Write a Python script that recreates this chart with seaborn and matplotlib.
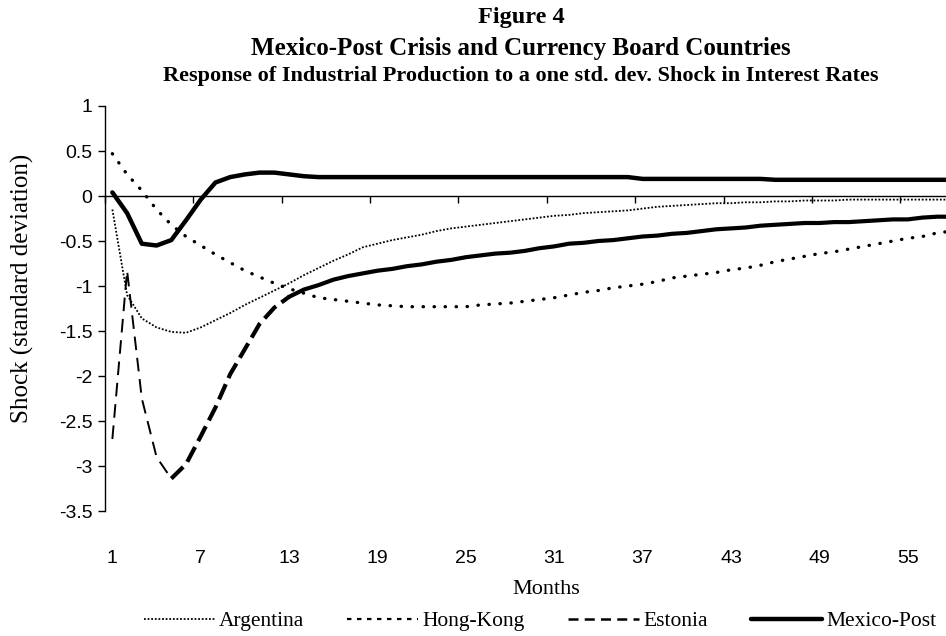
import matplotlib
matplotlib.use("Agg")
import matplotlib.pyplot as plt
from matplotlib.lines import Line2D
import seaborn as sns
import pandas as pd
import numpy as np

# impulse responses, months 1..58
months = list(range(1, 59))

argentina = [-0.15, -1.10, -1.36, -1.46, -1.51, -1.52, -1.46, -1.38, -1.30, -1.21,
             -1.13, -1.05, -0.97, -0.88, -0.80, -0.72, -0.65, -0.57, -0.53, -0.49,
             -0.46, -0.43, -0.39, -0.36, -0.34, -0.32, -0.30, -0.28, -0.26, -0.24,
             -0.22, -0.21, -0.19, -0.18, -0.17, -0.16, -0.14, -0.12, -0.11, -0.10,
             -0.09, -0.08, -0.08, -0.07, -0.07, -0.06, -0.06, -0.05, -0.05, -0.05,
             -0.04, -0.04, -0.04, -0.04, -0.04, -0.04, -0.04, -0.04]

hong_kong = [0.47, 0.24, 0.06, -0.15, -0.32, -0.45, -0.55, -0.65, -0.74, -0.83,
             -0.90, -0.97, -1.03, -1.08, -1.13, -1.15, -1.17, -1.19, -1.21, -1.22,
             -1.23, -1.23, -1.23, -1.23, -1.23, -1.21, -1.20, -1.19, -1.17, -1.15,
             -1.13, -1.10, -1.07, -1.05, -1.02, -1.00, -0.98, -0.95, -0.91, -0.89,
             -0.87, -0.85, -0.82, -0.80, -0.77, -0.73, -0.70, -0.67, -0.64, -0.62,
             -0.59, -0.56, -0.53, -0.50, -0.47, -0.45, -0.41, -0.39]

estonia = [-2.70, -0.83, -2.25, -2.90, -3.14, -2.98, -2.67, -2.35, -1.98, -1.70,
           -1.42, -1.24, -1.12, -1.04, -0.99, -0.93, -0.89, -0.86, -0.83, -0.81,
           -0.78, -0.76, -0.73, -0.71, -0.68, -0.66, -0.64, -0.63, -0.61, -0.58,
           -0.56, -0.53, -0.52, -0.50, -0.49, -0.47, -0.45, -0.44, -0.42, -0.41,
           -0.39, -0.37, -0.36, -0.35, -0.33, -0.32, -0.31, -0.30, -0.30, -0.29,
           -0.29, -0.28, -0.27, -0.26, -0.26, -0.24, -0.23, -0.23]

mexico_post = [0.04, -0.19, -0.53, -0.55, -0.49, -0.27, -0.04, 0.15, 0.21, 0.24,
               0.26, 0.26, 0.24, 0.22, 0.21, 0.21, 0.21, 0.21, 0.21, 0.21,
               0.21, 0.21, 0.21, 0.21, 0.21, 0.21, 0.21, 0.21, 0.21, 0.21,
               0.21, 0.21, 0.21, 0.21, 0.21, 0.21, 0.19, 0.19, 0.19, 0.19,
               0.19, 0.19, 0.19, 0.19, 0.19, 0.18, 0.18, 0.18, 0.18, 0.18,
               0.18, 0.18, 0.18, 0.18, 0.18, 0.18, 0.18, 0.18]

ytick_values = [1, 0.5, 0, -0.5, -1, -1.5, -2, -2.5, -3, -3.5]
ytick_labels = ["1", "0.5", "0", "-0.5", "-1", "-1.5", "-2", "-2.5", "-3", "-3.5"]
xtick_months = [1, 7, 13, 19, 25, 31, 37, 43, 49, 55]

df = pd.DataFrame({"Month": months, "Argentina": argentina, "Hong-Kong": hong_kong,
                   "Estonia": estonia, "Mexico-Post": mexico_post})

sns.set_style("white")
plt.rcParams["font.family"] = ["Liberation Serif", "DejaVu Serif"]
plt.rcParams["text.color"] = "black"
plt.rcParams["axes.labelcolor"] = "black"

fig = plt.figure(figsize=(9.46, 6.36), dpi=100)
ax = fig.add_axes([105 / 946, 1 - 511 / 636, 841 / 946, 405 / 636])

sns.lineplot(data=df, x="Month", y="Argentina", ax=ax, color="black",
             lw=1.3, linestyle=(0, (1, 1)))
sns.lineplot(data=df, x="Month", y="Hong-Kong", ax=ax, color="black",
             lw=2.4, linestyle=(0, (0.1, 3.2)), dash_capstyle="round")
# Estonia: thin dashes at the start, heavy dashes, then looks solid once flat
sns.lineplot(data=df.iloc[0:5], x="Month", y="Estonia", ax=ax, color="black",
             lw=1.4, linestyle=(0, (7, 4)))
sns.lineplot(data=df.iloc[4:13], x="Month", y="Estonia", ax=ax, color="black",
             lw=3.0, linestyle=(0, (4, 1.6)))
sns.lineplot(data=df.iloc[12:], x="Month", y="Estonia", ax=ax, color="black",
             lw=3.0)
sns.lineplot(data=df, x="Month", y="Mexico-Post", ax=ax, color="black", lw=3.2)

ax.set_xlim(0.5, 57.6)
ax.set_ylim(-3.5, 1)
ax.set_xlabel("")
ax.set_ylabel("")

for side in ["top", "right", "bottom"]:
    ax.spines[side].set_visible(False)
ax.spines["left"].set_color("black")
ax.spines["left"].set_linewidth(1.0)

ax.set_yticks(ytick_values)
ax.set_yticklabels(ytick_labels, family="Liberation Sans", fontsize=14)
ax.tick_params(axis="y", direction="out", length=5, width=1, pad=4, colors="black", left=True)

ax.set_xticks(xtick_months)
ax.set_xticklabels([str(m) for m in xtick_months], family="Liberation Sans", fontsize=14)
ax.tick_params(axis="x", length=0, pad=28, colors="black")

# category axis crossing at zero, tick marks between categories
lo, hi = ax.get_ylim()
sec = ax.secondary_xaxis((0 - lo) / (hi - lo))
sec.set_alignment("bottom")
sec.set_xticks(np.array(xtick_months) - 0.5)
sec.set_xticklabels([])
sec.tick_params(direction="out", length=5, width=1, colors="black")
sec.spines["bottom"].set_linewidth(1.0)
sec.spines["bottom"].set_color("black")

fig.text(521 / 946, 1 - 17 / 636, "Figure 4", ha="center", va="center",
         fontsize=17.5, fontweight="bold")
fig.text(521 / 946, 1 - 48 / 636, "Mexico-Post Crisis and Currency Board Countries",
         ha="center", va="center", fontsize=18, fontweight="bold")
fig.text(521 / 946, 1 - 76 / 636,
         "Response of Industrial Production to a one std. dev. Shock in Interest Rates",
         ha="center", va="center", fontsize=16, fontweight="bold")

fig.text(22 / 946, 1 - 288 / 636, "Shock (standard deviation)", rotation=90,
         ha="center", va="center", fontsize=18)
fig.text(546 / 946, 1 - 590 / 636, "Months", ha="center", va="center", fontsize=16)

handles = [
    Line2D([], [], color="black", lw=1.3, linestyle=(0, (1, 1))),
    Line2D([], [], color="black", lw=1.6, linestyle=(0, (2, 2.5))),
    Line2D([], [], color="black", lw=1.8, linestyle=(0, (4, 2.5))),
    Line2D([], [], color="black", lw=3.2),
]
fig.legend(handles, ["Argentina", "Hong-Kong", "Estonia", "Mexico-Post"],
           loc="center", bbox_to_anchor=(540 / 946, 1 - 621 / 636), ncol=4,
           frameon=False, fontsize=15.5, handlelength=3.3, handletextpad=0.2,
           columnspacing=2.0)

fig.savefig("out.png", dpi=100)
plt.close(fig)
